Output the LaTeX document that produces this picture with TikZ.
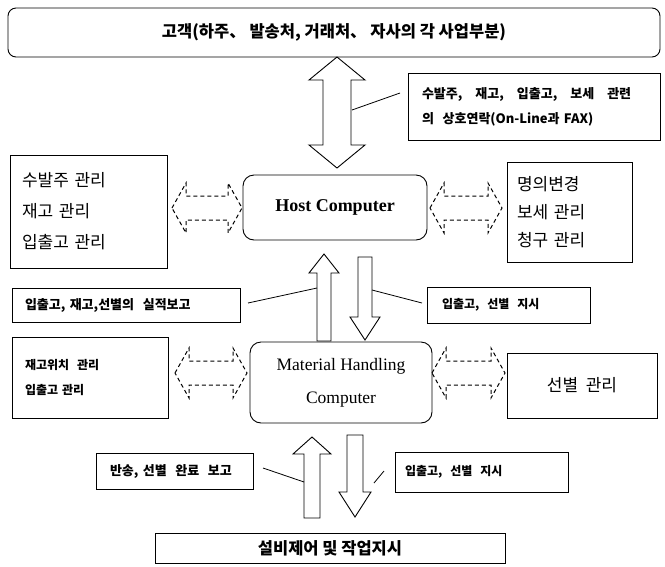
\documentclass[tikz,border=0pt]{standalone}
\usepackage{fontspec}
\setmainfont{Liberation Serif}
\newfontfamily\kr{Noto Sans CJK KR}
\usetikzlibrary{calc}
\tikzset{
  box/.style={draw, line width=0.9pt, inner ysep=0pt, outer sep=0pt},
  rbox/.style={box, rounded corners=11pt},
  blk/.style={draw, line width=0.9pt, fill=white, line join=miter},
  dsh/.style={draw, line width=1pt, dash pattern=on 4pt off 3pt},
  conn/.style={draw, line width=0.8pt},
  big/.style={font=\kr\fontsize{17}{31}\selectfont},
  small/.style={font=\kr\bfseries\fontsize{12}{25}\selectfont},
}
% cx, tip, base, shaft half, head half, head length
\newcommand\blkup[6]{\draw[blk] (#1,#2) -- ({#1+#5},{#2+#6}) -- ({#1+#4},{#2+#6}) -- ({#1+#4},#3) -- ({#1-#4},#3) -- ({#1-#4},{#2+#6}) -- ({#1-#5},{#2+#6}) -- cycle;}
% cx, top, tip, shaft half, head half, head length
\newcommand\blkdown[6]{\draw[blk] (#1,#3) -- ({#1+#5},{#3-#6}) -- ({#1+#4},{#3-#6}) -- ({#1+#4},#2) -- ({#1-#4},#2) -- ({#1-#4},{#3-#6}) -- ({#1-#5},{#3-#6}) -- cycle;}
\newcommand\blkdbl[6]{\draw[blk] (#1,#2) -- ({#1+#5},{#2+#6}) -- ({#1+#4},{#2+#6}) -- ({#1+#4},{#3-#6}) -- ({#1+#5},{#3-#6}) -- (#1,#3) -- ({#1-#5},{#3-#6}) -- ({#1-#4},{#3-#6}) -- ({#1-#4},{#2+#6}) -- ({#1-#5},{#2+#6}) -- cycle;}
% x1, x2, cy
\newcommand\dsharr[3]{\draw[dsh] (#1,#3) -- ({#1+14},{#3-25}) -- ({#1+14},{#3-12}) -- ({#2-14},{#3-12}) -- ({#2-14},{#3-25}) -- (#2,#3) -- ({#2-14},{#3+25}) -- ({#2-14},{#3+12}) -- ({#1+14},{#3+12}) -- ({#1+14},{#3+25}) -- cycle;}
\begin{document}
\begin{tikzpicture}[x=1pt,y=-1pt]
\useasboundingbox (0,0) rectangle (665,566);

% main boxes
\node[box, rounded corners=8pt, minimum width=652pt, minimum height=49pt, font=\kr\bfseries\fontsize{16.5}{18}\selectfont] (cust) at (334,32.5) {고객(하주、 발송처, 거래처、 자사의 각 사업부분)};

\node[box, small, font=\kr\bfseries\fontsize{13}{25}\selectfont, minimum height=67pt, inner xsep=14pt, text width=224pt, align=left] (lab1) at (534,106.5) {수발주,\ \ \ 재고,\ \ \ 입출고,\ \ \ 보세\ \ \ 관련\\의\ \ 상호연락(On-Line과\ FAX)};

\node[box, big, minimum height=113pt, inner xsep=12pt, text width=133pt, align=left] (lbox1) at (88.5,211.5) {수발주 관리\\재고 관리\\입출고 관리};

\node[rbox, minimum width=184pt, minimum height=65pt, font=\bfseries\fontsize{18}{20}\selectfont] (host) at (335,207.5) {Host Computer};

\node[box, big, font=\kr\fontsize{17}{28}\selectfont, minimum height=100pt, inner xsep=10pt, text width=105pt, align=left] (rbox1) at (569.5,212) {명의변경\\보세 관리\\청구 관리};

\node[box, small, font=\kr\bfseries\fontsize{13}{25}\selectfont, minimum height=34pt, inner xsep=13pt, text width=202pt, align=left] (lab2) at (126,305) {입출고,\ 재고,선별의\ \ 실적보고};

\node[box, small, minimum height=36pt, inner xsep=15pt, text width=133pt, align=left] (lab3) at (508.5,305) {입출고,\ \ 선별\ \ 지시};

\node[box, small, minimum height=81pt, inner xsep=13pt, text width=130pt, align=left] (lbox2) at (90,377.5) {재고위치\ \ 관리\\입출고\ 관리};

\node[rbox, minimum width=182pt, minimum height=81pt, font=\fontsize{17.5}{33}\selectfont, align=center] (mhc) at (341,382.5) {Material Handling\\Computer};

\node[box, big, minimum width=150pt, minimum height=65pt] (rbox2) at (582,385.5) {선별\ \ 관리};

\node[box, small, font=\kr\bfseries\fontsize{13}{25}\selectfont, minimum height=36pt, inner xsep=14pt, text width=129pt, align=left] (lab4) at (174.5,471) {반송,\ 선별\ \ 완료\ \ 보고};

\node[box, small, minimum height=40pt, inner xsep=10pt, text width=153pt, align=left] (lab5) at (481.5,472) {입출고,\ \ 선별\ \ 지시};

\node[box, font=\kr\bfseries\fontsize{16.5}{20}\selectfont, minimum width=350pt, minimum height=30pt] (equip) at (330,548) {설비제어 및 작업지시};

% block arrows
\blkdbl{337}{57}{168}{14}{28}{23}
\blkup{324}{254}{341}{7}{15}{19}
\blkdown{365}{257}{340}{7}{15}{23}
\blkup{312}{437}{518}{8}{19}{17}
\blkdown{355}{435}{517}{8}{16}{25}

% dashed double arrows
\dsharr{172}{242}{208}
\dsharr{430}{502}{208}
\dsharr{175}{247}{373}
\dsharr{432}{505}{373}

% label connectors
\coordinate (c1a) at (352,110); \coordinate (c1b) at (400,93);
\coordinate (c2a) at (248,303); \coordinate (c2b) at (317,288);
\coordinate (c3a) at (372,290); \coordinate (c3b) at (422,303);
\coordinate (c4a) at (263,468); \coordinate (c4b) at (304,482);
\coordinate (c5a) at (374,483); \coordinate (c5b) at (384,471);
\draw[conn] (c1a) -- (c1b);
\draw[conn] (c2a) -- (c2b);
\draw[conn] (c3a) -- (c3b);
\draw[conn] (c4a) -- (c4b);
\draw[conn] (c5a) -- (c5b);
\end{tikzpicture}
\end{document}
